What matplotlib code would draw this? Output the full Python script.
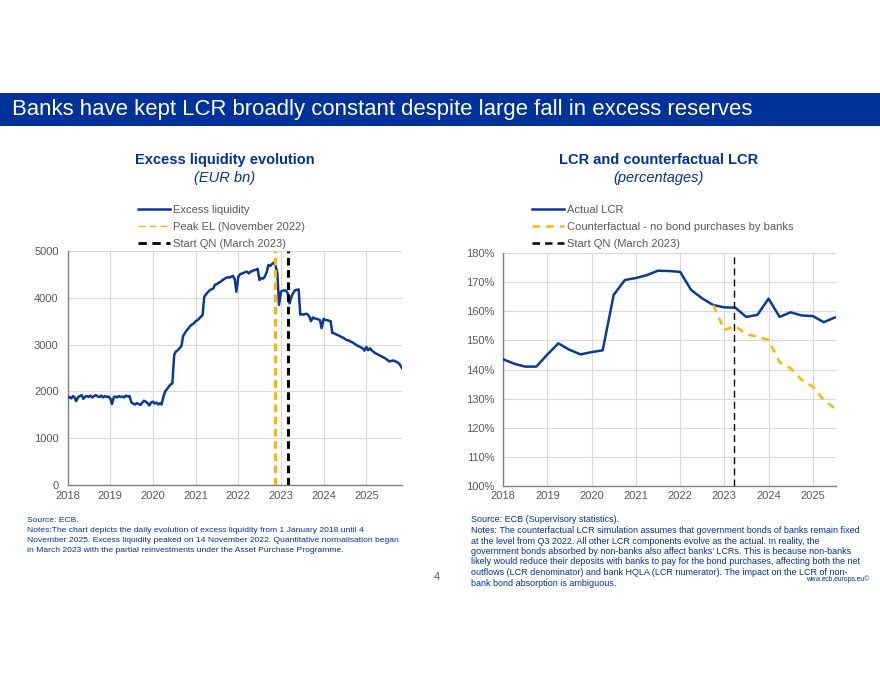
import matplotlib
matplotlib.use("Agg")
import matplotlib.pyplot as plt
import matplotlib.ticker as mticker
import matplotlib.dates as mdates
from matplotlib.patches import Rectangle
import pandas as pd
import numpy as np

plt.rcParams['font.family'] = ['Liberation Sans', 'DejaVu Sans']

# ---------------------------------------------------------------------------
# left chart: excess liquidity, EUR bn (twice a month)
el_2018 = [1860, 1880, 1850, 1900, 1870, 1790, 1880, 1900, 1920, 1840, 1890, 1900,
           1880, 1910, 1870, 1900, 1920, 1890, 1880, 1910, 1870, 1900, 1880, 1890]
el_2019 = [1850, 1730, 1880, 1890, 1870, 1900, 1880, 1890, 1870, 1910, 1890, 1900,
           1760, 1740, 1720, 1750, 1730, 1710, 1760, 1800, 1780, 1750, 1700, 1760]
el_2020 = [1780, 1740, 1760, 1720, 1750, 1720, 1900, 2000, 2050, 2100, 2150, 2170,
           2780, 2850, 2880, 2920, 2970, 3180, 3250, 3300, 3350, 3400, 3430, 3450]
el_2021 = [3500, 3520, 3560, 3600, 3630, 4020, 4080, 4120, 4160, 4180, 4200, 4280,
           4290, 4320, 4340, 4370, 4400, 4420, 4440, 4430, 4450, 4470, 4400, 4130]
el_2022 = [4450, 4500, 4520, 4530, 4550, 4560, 4520, 4560, 4570, 4590, 4600, 4620,
           4380, 4420, 4410, 4450, 4550, 4700, 4680, 4720, 4750, 4700, 4520, 3850]
el_2023 = [4130, 4150, 4160, 4150, 4090, 3880, 4020, 4100, 4160, 4170, 4180, 3640,
           3650, 3640, 3660, 3650, 3600, 3500, 3580, 3560, 3550, 3540, 3520, 3350]
el_2024 = [3550, 3530, 3520, 3510, 3500, 3250, 3240, 3220, 3200, 3190, 3160, 3150,
           3120, 3100, 3090, 3070, 3050, 3030, 3000, 2980, 2960, 2940, 2920, 2870]
el_2025 = [2950, 2880, 2920, 2880, 2850, 2820, 2800, 2780, 2760, 2740, 2720, 2700,
           2670, 2640, 2650, 2660, 2650, 2630, 2610, 2570, 2500]
excess_liq = el_2018 + el_2019 + el_2020 + el_2021 + el_2022 + el_2023 + el_2024 + el_2025
el_dates = pd.date_range("2018-01-01", "2025-11-01", freq="SMS")

peak_el = pd.Timestamp("2022-11-14")
start_qn = pd.Timestamp("2023-03-01")

# right chart: LCR, percentages (quarterly)
lcr_dates = pd.date_range("2018-01-01", "2025-07-01", freq="QS")
lcr_actual = [143.5, 142.0, 141.0, 141.0, 145.2, 149.0, 146.8, 145.2, 146.0, 146.6,
              165.7, 170.8, 171.5, 172.5, 174.0, 173.9, 173.6, 167.4, 164.5, 162.2,
              161.4, 161.3, 158.1, 158.8, 164.4, 158.1, 159.7, 158.6, 158.4, 156.3,
              157.9]
lcr_cf = [162.2, 153.6, 155.0, 152.1, 151.3, 150.2, 142.5, 140.4, 136.4, 134.1,
          129.5, 126.6]
cf_dates = lcr_dates[19:]
start_qn_r = pd.Timestamp("2023-03-22")

blue = "#0B3A96"
yellow = "#FFB400"
navy = "#003299"
grey = "#595959"
gridc = "#D9D9D9"

fig = plt.figure(figsize=(8.8, 6.8), dpi=100)

# banner
fig.patches.append(Rectangle((0, 0.8147), 1, 0.0485, transform=fig.transFigure,
                             facecolor=navy, edgecolor="none"))
fig.text(0.0136, 0.839, "Banks have kept LCR broadly constant despite large fall in excess reserves",
         color="white", fontsize=15.9, va="center", ha="left")


def style(ax):
    ax.grid(True, color=gridc, linewidth=0.8)
    ax.set_axisbelow(True)
    for s in ["top", "right"]:
        ax.spines[s].set_visible(False)
    for s in ["left", "bottom"]:
        ax.spines[s].set_color("#808080")
        ax.spines[s].set_linewidth(1)
    ax.tick_params(length=0, labelsize=8, colors=grey, pad=4)
    ax.tick_params(axis="y", pad=6.5)
    ax.xaxis.set_major_locator(mdates.YearLocator())
    ax.xaxis.set_major_formatter(mdates.DateFormatter('%Y'))


#---------------------------------------------------------------------------
ax = fig.add_axes([0.0769, 0.2868, 0.3802, 0.3441])
ax.plot(el_dates, excess_liq, color=blue, linewidth=1.8, label="Excess liquidity", zorder=3)
ax.axvline(peak_el, color=yellow, linewidth=2.2, linestyle=(0, (2.5, 1.5)), zorder=4,
           label="Peak EL (November 2022)")
ax.axvline(start_qn, color="black", linewidth=2.2, linestyle=(0, (2.5, 1.5)), zorder=4,
           label="Start QN (March 2023)")
ax.set_ylim(0, 5000)
ax.set_xlim(pd.Timestamp("2018-01-01"), pd.Timestamp("2025-11-04"))
ax.yaxis.set_major_locator(mticker.MultipleLocator(1000))
style(ax)
h, l = ax.get_legend_handles_labels()
h[1] = plt.Line2D([], [], color=yellow, linewidth=1, linestyle=(0, (5, 3)))
h[2] = plt.Line2D([], [], color="black", linewidth=2, linestyle=(0, (3, 2)))
ax.legend(h, l, loc="upper left", bbox_to_anchor=(0.1568, 0.699), bbox_transform=fig.transFigure,
          frameon=False, fontsize=8, labelcolor=grey, handlelength=2.9, handletextpad=0.25,
          labelspacing=0.63, borderpad=0, borderaxespad=0)

fig.text(0.255, 0.765, "Excess liquidity evolution", color=navy, fontsize=10.5,
         fontweight="bold", ha="center", va="center")
fig.text(0.255, 0.738, "(EUR bn)", color=navy, fontsize=10.5, style="italic",
         ha="center", va="center")

#---------------------------------------------------------------------------
ax2 = fig.add_axes([0.5719, 0.2857, 0.3777, 0.3418])
ax2.plot(lcr_dates, lcr_actual, color=blue, linewidth=1.8, label="Actual LCR", zorder=3)
ax2.plot(cf_dates, lcr_cf, color=yellow, linewidth=1.8, linestyle=(0, (3, 2.5)), zorder=3,
         label="Counterfactual - no bond purchases by banks")
ax2.axvline(start_qn_r, color="black", linewidth=1, linestyle=(0, (5, 3)), zorder=4,
            label="Start QN (March 2023)")
ax2.set_ylim(100, 180)
ax2.set_xlim(pd.Timestamp("2018-01-01"), pd.Timestamp("2025-07-08"))
ax2.yaxis.set_major_locator(mticker.MultipleLocator(10))
ax2.yaxis.set_major_formatter(mticker.FormatStrFormatter('%d%%'))
style(ax2)
h, l = ax2.get_legend_handles_labels()
h[1] = plt.Line2D([], [], color=yellow, linewidth=1.8, linestyle=(0, (3, 2.5)))
h[2] = plt.Line2D([], [], color="black", linewidth=1.8, linestyle=(0, (3, 2)))
ax2.legend(h, l, loc="upper left", bbox_to_anchor=(0.6045, 0.699), bbox_transform=fig.transFigure,
           frameon=False, fontsize=8, labelcolor=grey, handlelength=2.9, handletextpad=0.25,
           labelspacing=0.63, borderpad=0, borderaxespad=0)

fig.text(0.748, 0.765, "LCR and counterfactual LCR", color=navy, fontsize=10.5,
         fontweight="bold", ha="center", va="center")
fig.text(0.748, 0.738, "(percentages)", color=navy, fontsize=10.5, style="italic",
         ha="center", va="center")

#---------------------------------------------------------------------------
notes_l = ["Source: ECB.",
           "Notes:The chart depicts the daily evolution of excess liquidity from 1 January 2018 until 4",
           "November 2025. Excess liquidity peaked on 14 November 2022. Quantitative normalisation began",
           "in March 2023 with the partial reinvestments under the Asset Purchase Programme."]
notes_r = ["Source: ECB (Supervisory statistics).",
           "Notes: The counterfactual LCR simulation assumes that government bonds of banks remain fixed",
           "at the level from Q3 2022. All other LCR components evolve as the actual. In reality, the",
           "government bonds absorbed by non-banks also affect banks\u2019 LCRs. This is because non-banks",
           "likely would reduce their deposits with banks to pay for the bond purchases, affecting both the net",
           "outflows (LCR denominator) and bank HQLA (LCR numerator). The impact on the LCR of non-",
           "bank bond absorption is ambiguous."]
for i, t in enumerate(notes_l):
    fig.text(27 / 880, 1 - (521 + 10 * i) / 680, t, color=navy, fontsize=6.1, va="center")
for i, t in enumerate(notes_r):
    fig.text(471 / 880, 1 - (520 + 10.5 * i) / 680, t, color=navy, fontsize=6.45, va="center")

fig.text(437 / 880, 1 - 577 / 680, "4", color=grey, fontsize=8, ha="center", va="center")
fig.text(869 / 880, 1 - 579.5 / 680, "www.ecb.europa.eu\u00a9", color=navy, fontsize=4.8,
         ha="right", va="center")

plt.savefig("out.png", dpi=100)
